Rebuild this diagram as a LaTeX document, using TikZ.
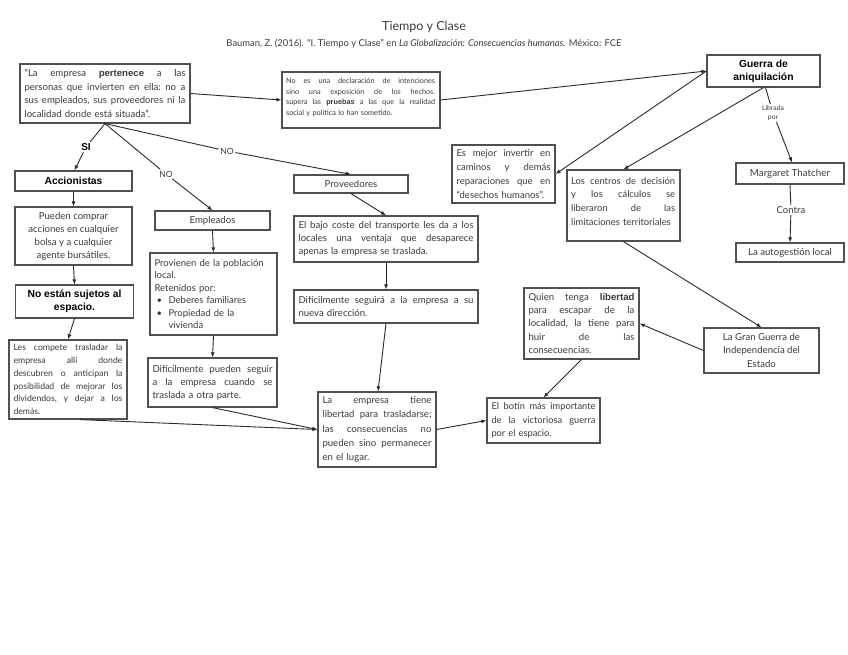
\documentclass[tikz,border=0pt]{standalone}
\usepackage{fontspec}
\setmainfont{Lato}
\newfontfamily\arial{Liberation Sans}
\usetikzlibrary{arrows.meta}
\definecolor{txt}{HTML}{3A3A3A}
\definecolor{brd}{HTML}{505050}
\definecolor{lncol}{HTML}{2A2A2A}
\newlength\jwid
\newcommand\jl[1]{\hbox to \jwid{\frenchspacing\spaceskip=0.26em plus 1fil\relax #1}\par}
\newcommand\bw[1]{{\arial\bfseries #1}}
\begin{document}
\begin{tikzpicture}[x=1pt,y=-1pt,
 jw/.code={\setlength\jwid{#1}},
 box/.style={draw=brd, line width=1.2pt, inner xsep=4pt, inner ysep=2pt, text=txt,
   font=\fontsize{9.6}{13.2}\selectfont, align=left},
 cbox/.style={box, align=center},
 tx/.style={text=txt, inner sep=0pt, align=left},
 bld/.style={font=\arial\bfseries\fontsize{10.3}{13}\selectfont, text=black},
 arr/.style={draw=lncol, line width=0.9pt, -{Latex[length=5pt,width=4pt]}},
 cl/.style={draw=lncol, line width=0.9pt},
 lab/.style={text=txt, inner sep=1.5pt}]
\useasboundingbox (0,0) rectangle (848,655);

% titles
\node[text=txt, font=\fontsize{12.5}{14}\selectfont, inner sep=0pt] (title) at (424,27) {Tiempo y Clase};
\node[text=txt, font=\fontsize{9.4}{11}\selectfont, inner sep=0pt] (sub) at (424,44)
 {Bauman, Z. (2016). “I. Tiempo y Clase” en \textit{La Globalización: Consecuencias humanas.} México: FCE};

% top row
\node[box, minimum width=170pt, minimum height=59pt, text width=161pt, jw=161pt,
  font=\fontsize{9.6}{13.5}\selectfont] (A) at (105,93.5)
 {\jl{“La empresa \bw{pertenece} a las}\jl{personas que invierten en ella: no a}\jl{sus empleados, sus proveedores ni la}localidad donde está situada”.};

\node[draw=brd, line width=1.2pt, minimum width=158pt, minimum height=56pt, inner sep=0pt] (B) at (361,100) {};
\node[tx, anchor=north west, text width=149pt, jw=149pt, font=\fontsize{7.3}{10.6}\selectfont] (tB) at ([shift={(4.5,6.5)}]B.north west)
 {\jl{No es una declaración de intenciones}\jl{sino una exposición de los hechos.}\jl{supera las \bw{pruebas} a las que la realidad}social y política lo han sometido.};

\node[cbox, bld, minimum width=113pt, minimum height=32pt, font=\arial\bfseries\fontsize{10.3}{13}\selectfont] (G) at (763.5,71)
 {Guerra de\\aniquilación};

\node[box, minimum width=103pt, minimum height=58pt, text width=94pt, jw=94pt, font=\fontsize{9.5}{13.8}\selectfont] (E) at (503.5,174)
 {\jl{Es mejor invertir en}\jl{caminos y demás}\jl{reparaciones que en}“desechos humanos”.};

\node[draw=brd, line width=1.2pt, minimum width=113pt, minimum height=71pt, inner sep=0pt] (C) at (623.5,205.5) {};
\node[tx, anchor=north west, text width=104pt, jw=104pt, font=\fontsize{9.4}{13.9}\selectfont] (tC) at ([shift={(4.5,7.5)}]C.north west)
 {\jl{Los centros de decisión}\jl{y los cálculos se}\jl{liberaron de las}limitaciones territoriales};

\node[cbox, minimum width=108pt, minimum height=21pt, font=\fontsize{9.8}{12}\selectfont] (M) at (790,173.5) {Margaret Thatcher};
\node[cbox, minimum width=108pt, minimum height=19pt, font=\fontsize{9.6}{12}\selectfont] (L) at (790,252.5) {La autogestión local};
\node[lab, font=\fontsize{6.8}{8.5}\selectfont, align=center] (lib) at (773,113) {Librada\\por};
\node[lab, font=\fontsize{9.6}{11}\selectfont] (contra) at (791,210) {Contra};

\node[cbox, minimum width=115pt, minimum height=45pt, font=\fontsize{9.6}{13.5}\selectfont] (GG) at (761.5,350.5)
 {La Gran Guerra de\\Independencia del\\Estado};

\node[box, minimum width=115pt, minimum height=71pt, text width=106pt, jw=106pt] (Q) at (581.5,323.5)
 {\jl{Quien tenga \bw{libertad}}\jl{para escapar de la}\jl{localidad, la tiene para}\jl{huir de las}consecuencias.};

\node[box, minimum width=113pt, minimum height=45pt, text width=104pt, jw=104pt, font=\fontsize{9.3}{13.2}\selectfont] (BT) at (543.5,420.5)
 {\jl{El botín más importante}\jl{de la victoriosa guerra}por el espacio.};

\node[box, minimum width=118pt, minimum height=75pt, text width=109pt, jw=109pt, font=\fontsize{9.6}{14.2}\selectfont] (LE) at (377,429.5)
 {\jl{La empresa tiene}\jl{libertad para trasladarse;}\jl{las consecuencias no}\jl{pueden sino permanecer}en el lugar.};

% middle column
\node[cbox, minimum width=114pt, minimum height=18pt] (P) at (351,184) {Proveedores};
\node[box, minimum width=184pt, minimum height=46pt, text width=175pt, jw=175pt] (EB) at (386,239)
 {\jl{El bajo coste del transporte les da a los}\jl{locales una ventaja que desaparece}apenas la empresa se traslada.};
\node[box, minimum width=184pt, minimum height=33pt, text width=175pt, jw=175pt] (DS) at (386,306.5)
 {\jl{Difícilmente seguirá a la empresa a su}nueva dirección.};

\node[cbox, minimum width=115pt, minimum height=19pt] (Em) at (212.5,220.5) {Empleados};
\node[box, minimum width=127pt, minimum height=82pt, text width=118pt, font=\fontsize{9.5}{12.4}\selectfont] (Pv) at (213.5,294)
 {Provienen de la población\\local.\\Retenidos por:\\\hspace*{2pt}\makebox[12pt][l]{\textbullet}Deberes familiares\\\hspace*{2pt}\makebox[12pt][l]{\textbullet}Propiedad de la\\\hspace*{14pt}vivienda};
\node[box, minimum width=129pt, minimum height=49pt, text width=120pt, jw=120pt] (DP) at (212.5,382.5)
 {\jl{Difícilmente pueden seguir}\jl{a la empresa cuando se}traslada a otra parte.};

% left column
\node[cbox, bld, minimum width=117pt, minimum height=20pt] (Acc) at (73.5,181) {Accionistas};
\node[cbox, minimum width=117pt, minimum height=58pt, font=\fontsize{9.6}{13}\selectfont] (Pu) at (73.5,236)
 {Pueden comprar\\acciones en cualquier\\bolsa y a cualquier\\agente bursátiles.};
\node[cbox, bld, minimum width=118pt, minimum height=33pt] (NE) at (74.5,301.5)
 {No están sujetos al\\espacio.};
\node[box, minimum width=118pt, minimum height=79pt, text width=109pt, jw=109pt, font=\fontsize{8.7}{12.8}\selectfont] (LC) at (68,379.5)
 {\jl{Les compete trasladar la}\jl{empresa allí donde}\jl{descubren o anticipan la}\jl{posibilidad de mejorar los}\jl{dividendos, y dejar a los}demás.};

% labels on branches
\node[lab, bld, font=\arial\bfseries\fontsize{10}{11}\selectfont] (SI) at (86,147) {SI};
\node[lab, font=\fontsize{8.5}{10}\selectfont] (NO1) at (166,174) {NO};
\node[lab, font=\fontsize{8.5}{10}\selectfont] (NO2) at (227,151) {NO};

% connectors
\draw[cl] (A.south) -- (SI);
\draw[arr] (SI) -- ([xshift=1pt]Acc.north);
\draw[cl] (A.south) -- (NO1);
\draw[arr] (NO1) -- (Em.north);
\draw[cl] (A.south) -- (NO2);
\draw[arr] (NO2) -- (P.north);
\draw[arr] (A.east) -- (B.west);
\draw[arr] (B.east) -- (G.west);
\draw[arr] (G.west) -- (E.east);
\draw[arr] (G.south) -- (C.north);
\draw[cl] ([xshift=2pt]G.south) -- (lib);
\draw[arr] (lib) -- ([xshift=2pt]M.north);
\draw[cl] (M.south) -- (contra);
\draw[arr] (contra) -- (L.north);
\draw[arr] (C.south) -- (GG.north);
\draw[arr] (GG.west) -- (Q.east);
\draw[arr] (Q.south) -- (BT.north);
\draw[arr] (LE.east) -- (BT.west);
\draw[arr] (DS.south) -- ([xshift=1pt]LE.north);
\draw[arr] ([xshift=12pt]LC.south) -- (LE.west);
\draw[arr] (DP.south) -- (LE.west);
\draw[arr] (P.south) -- (EB.north);
\draw[arr] (EB.south) -- (DS.north);
\draw[arr] (Acc.south) -- (Pu.north);
\draw[arr] (Pu.south) -- (NE.north);
\draw[arr] (NE.south) -- (LC.north);
\draw[arr] (Em.south) -- (Pv.north);
\draw[arr] (Pv.south) -- (DP.north);
\end{tikzpicture}
\end{document}
